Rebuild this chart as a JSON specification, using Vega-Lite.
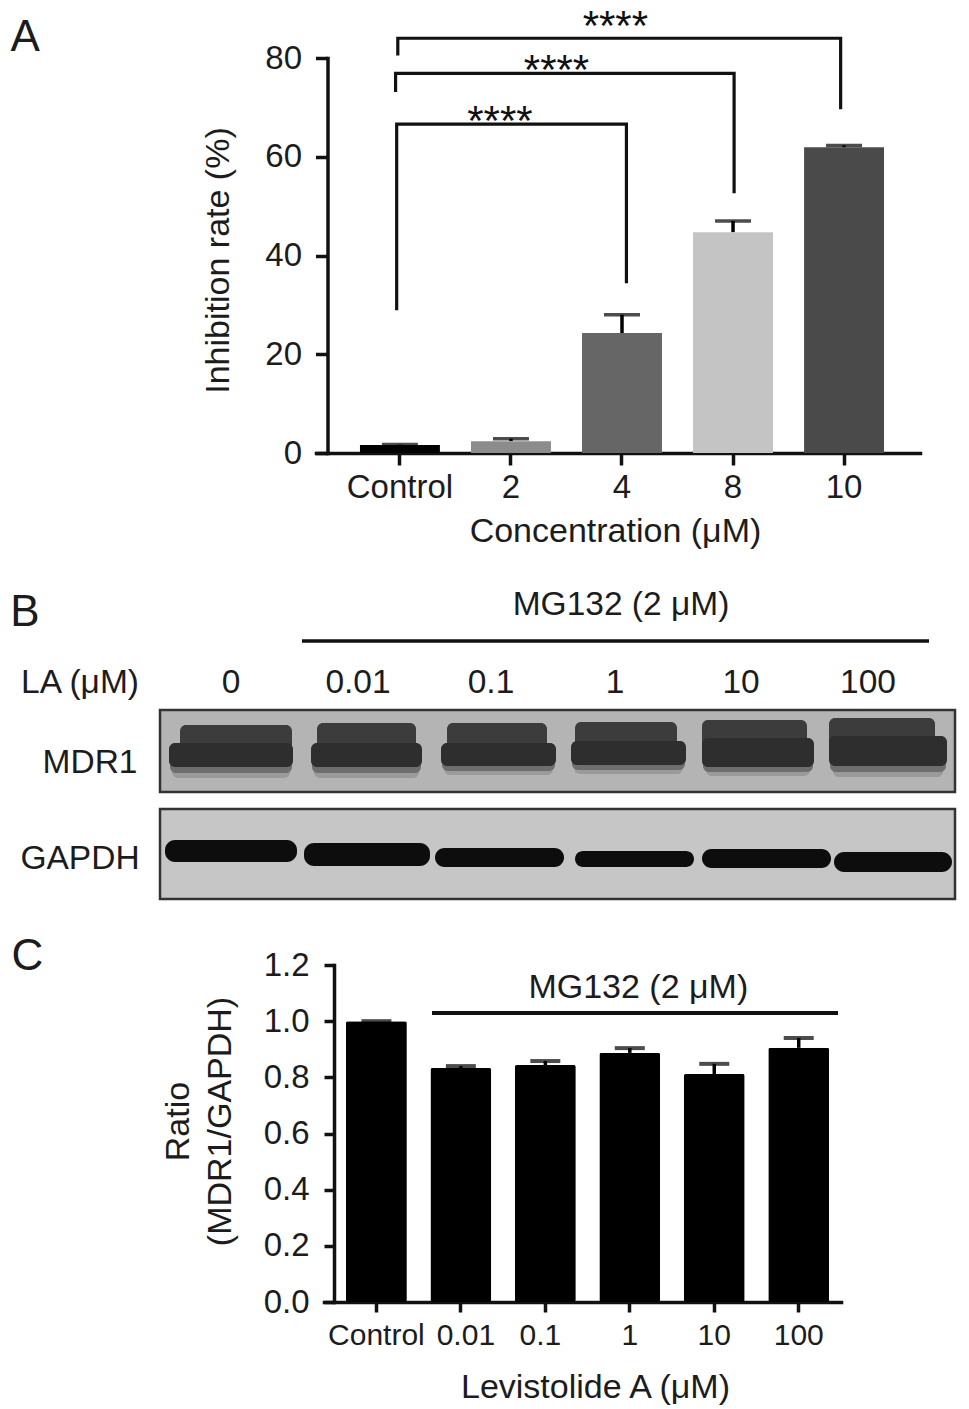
{
"$schema":"https://vega.github.io/schema/vega-lite/v6.json",
"padding":0,"autosize":{"type":"pad"},"background":"white","spacing":0,"bounds":"flush",
"config":{"view":{"stroke":null},"font":"Liberation Sans","text":{"font":"Liberation Sans","color":"#1c1c1c"},
"axis":{"grid":false,"domainColor":"#111","tickColor":"#111","labelColor":"#1c1c1c","titleColor":"#1c1c1c","labelFont":"Liberation Sans","titleFont":"Liberation Sans","titleFontWeight":"normal","domainWidth":3.5,"tickWidth":3.5,"domainCap":"square"}},
"vconcat":[
{"width":969,"height":570,
 "resolve":{"scale":{"x":"independent"},"axis":{"x":"independent"}},
 "layer":[
  {"data":{"values":[
   {"concentration":"Control","mean":1.6,"upper":1.7,"shade":"Control"},
   {"concentration":"2","mean":2.4,"upper":2.9,"shade":"2"},
   {"concentration":"4","mean":24.3,"upper":28.0,"shade":"4"},
   {"concentration":"8","mean":44.7,"upper":47.0,"shade":"8"},
   {"concentration":"10","mean":61.9,"upper":62.3,"shade":"10"}]},
   "layer":[
   {"mark":{"type":"rule","strokeWidth":3.5,"color":"#000"},
    "encoding":{"x":{"field":"concentration","type":"nominal","sort":null,"scale":{"type":"band","range":[316,920],"paddingInner":0.28,"paddingOuter":0.36,"align":0.55},
      "axis":{"title":"Concentration (μM)","labelAngle":0,"offset":-117,"tickSize":12,"labelFontSize":33,"titleFontSize":34,"labelPadding":6,"titlePadding":10,"titleX":615}},
     "y":{"field":"mean","type":"quantitative","scale":{"domain":[0,80],"range":[453,58],"nice":false},
      "axis":{"title":"Inhibition rate (%)","values":[0,20,40,60,80],"offset":-327.5,"tickSize":12,"labelFontSize":33,"titleFontSize":34,"labelPadding":14,"titlePadding":29,"titleY":260}},
     "y2":{"field":"upper"}}},
   {"mark":{"type":"tick","color":"#000","size":36,"thickness":3.5},
    "encoding":{"x":{"field":"concentration","type":"nominal","sort":null},"y":{"field":"upper","type":"quantitative"}}},
   {"mark":{"type":"bar"},
    "encoding":{"x":{"field":"concentration","type":"nominal","sort":null},
     "y":{"field":"mean","type":"quantitative"},
     "color":{"field":"shade","type":"nominal","legend":null,"scale":{"domain":["Control","2","4","8","10"],"range":["#000000","#8c8c8c","#666666","#c4c4c4","#4a4a4a"]}}}}
   ]},
  {"layer":[
   {"data":{"values":[
    {"bracket":"a","order":1,"position":-0.03,"level":28.9},{"bracket":"a","order":2,"position":-0.03,"level":66.6},{"bracket":"a","order":3,"position":2.04,"level":66.6},{"bracket":"a","order":4,"position":2.04,"level":34.4},
    {"bracket":"b","order":1,"position":-0.04,"level":73.1},{"bracket":"b","order":2,"position":-0.04,"level":76.9},{"bracket":"b","order":3,"position":3.01,"level":76.9},{"bracket":"b","order":4,"position":3.01,"level":52.6},
    {"bracket":"c","order":1,"position":-0.02,"level":80.5},{"bracket":"c","order":2,"position":-0.02,"level":84},{"bracket":"c","order":3,"position":3.97,"level":84},{"bracket":"c","order":4,"position":3.97,"level":69.6}]},
    "mark":{"type":"line","color":"#111","strokeWidth":3.2,"strokeJoin":"miter"},
    "encoding":{"x":{"field":"position","type":"quantitative","axis":null,"scale":{"domain":[-0.757,4.685],"range":[316,920],"nice":false,"zero":false}},
     "y":{"field":"level","type":"quantitative"},"detail":{"field":"bracket"},"order":{"field":"order","type":"quantitative"}}},
   {"data":{"values":[{"position":0.9,"level":68.6,"stars":"****"},{"position":1.41,"level":78.9,"stars":"****"},{"position":1.94,"level":88,"stars":"****"}]},
    "mark":{"type":"text","fontSize":42,"align":"center","baseline":"middle","dy":8,"color":"#111"},
    "encoding":{"x":{"field":"position","type":"quantitative"},"y":{"field":"level","type":"quantitative"},"text":{"field":"stars"}}},
   {"data":{"values":[{"position":-3.378,"level":84,"letter":"A"}]},
    "mark":{"type":"text","fontSize":44,"align":"center","baseline":"middle"},
    "encoding":{"x":{"field":"position","type":"quantitative"},"y":{"field":"level","type":"quantitative"},"text":{"field":"letter"}}}
  ]}
 ]},
{"width":969,"height":355,
 "resolve":{"scale":{"fill":"independent"}},
 "layer":[
  {"data":{"values":[
    {"membrane":"MDR1","x0":160,"x1":955,"y0":140,"y1":222},
    {"membrane":"GAPDH","x0":160,"x1":955,"y0":239,"y1":329}]},
   "mark":{"type":"rect","stroke":"#333","strokeWidth":2.5},
   "encoding":{"x":{"field":"x0","type":"quantitative","axis":null,"scale":{"domain":[0,969],"range":[0,969],"nice":false}},
    "x2":{"field":"x1"},
    "y":{"field":"y0","type":"quantitative","axis":null,"scale":{"domain":[0,355],"range":[0,355],"nice":false}},
    "y2":{"field":"y1"},
    "fill":{"field":"membrane","type":"nominal","legend":null,"scale":{"domain":["MDR1","GAPDH"],"range":["#b4b4b4","#c6c6c6"]}}}},
  {"data":{"values":[
    {"x0":172,"x1":290,"y0":173,"y1":208,"part":"fade2"},{"x0":314,"x1":419,"y0":173,"y1":208,"part":"fade2"},{"x0":444,"x1":553,"y0":173,"y1":205,"part":"fade2"},{"x0":574,"x1":683,"y0":171,"y1":204,"part":"fade2"},{"x0":706,"x1":810,"y0":168,"y1":206,"part":"fade2"},{"x0":833,"x1":943,"y0":166,"y1":207,"part":"fade2"},
    {"x0":170,"x1":292,"y0":173,"y1":203,"part":"fade1"},{"x0":312,"x1":421,"y0":173,"y1":203,"part":"fade1"},{"x0":442,"x1":555,"y0":173,"y1":201,"part":"fade1"},{"x0":572,"x1":685,"y0":171,"y1":200,"part":"fade1"},{"x0":703,"x1":813,"y0":168,"y1":202,"part":"fade1"},{"x0":830,"x1":946,"y0":166,"y1":202,"part":"fade1"},
    {"x0":180,"x1":292,"y0":155,"y1":180,"part":"upper"},{"x0":317,"x1":416,"y0":153,"y1":180,"part":"upper"},{"x0":447,"x1":547,"y0":153,"y1":180,"part":"upper"},{"x0":575,"x1":677,"y0":152,"y1":180,"part":"upper"},{"x0":702,"x1":807,"y0":150,"y1":180,"part":"upper"},{"x0":829,"x1":935,"y0":148,"y1":180,"part":"upper"},
    {"x0":169,"x1":293,"y0":173,"y1":197,"part":"lower"},{"x0":311,"x1":422,"y0":173,"y1":197,"part":"lower"},{"x0":441,"x1":556,"y0":173,"y1":196,"part":"lower"},{"x0":571,"x1":686,"y0":171,"y1":195,"part":"lower"},{"x0":702,"x1":814,"y0":168,"y1":197,"part":"lower"},{"x0":829,"x1":947,"y0":166,"y1":196,"part":"lower"}]},
   "mark":{"type":"rect","cornerRadius":6},
   "encoding":{"x":{"field":"x0","type":"quantitative"},"x2":{"field":"x1"},"y":{"field":"y0","type":"quantitative"},"y2":{"field":"y1"},
    "fill":{"field":"part","type":"nominal","legend":null,"scale":{"domain":["fade2","fade1","upper","lower"],"range":["#9a9a9a","#6e6e6e","#3c3c3c","#2e2e2e"]}}}},
  {"data":{"values":[
    {"x0":165,"x1":297,"y0":270,"y1":292},{"x0":304,"x1":430,"y0":273,"y1":296},{"x0":435,"x1":564,"y0":278,"y1":297},{"x0":575,"x1":694,"y0":281,"y1":297},{"x0":702,"x1":831,"y0":279,"y1":298},{"x0":834,"x1":952,"y0":282,"y1":302}]},
   "mark":{"type":"rect","cornerRadius":10,"fill":"#0d0d0d"},
   "encoding":{"x":{"field":"x0","type":"quantitative"},"x2":{"field":"x1"},"y":{"field":"y0","type":"quantitative"},"y2":{"field":"y1"}}},
  {"data":{"values":[{"x0":302,"x1":929,"y0":71}]},
   "mark":{"type":"rule","color":"#111","strokeWidth":3.5},
   "encoding":{"x":{"field":"x0","type":"quantitative"},"x2":{"field":"x1"},"y":{"field":"y0","type":"quantitative"}}},
  {"data":{"values":[
    {"x0":621,"y0":35,"label":"MG132 (2 μM)"},{"x0":80,"y0":113,"label":"LA (μM)"},
    {"x0":231,"y0":113,"label":"0"},{"x0":358,"y0":113,"label":"0.01"},{"x0":491,"y0":113,"label":"0.1"},{"x0":615,"y0":113,"label":"1"},{"x0":741,"y0":113,"label":"10"},{"x0":868,"y0":113,"label":"100"},
    {"x0":90,"y0":193,"label":"MDR1"},{"x0":80,"y0":289,"label":"GAPDH"}]},
   "mark":{"type":"text","fontSize":33.5,"align":"center","baseline":"middle"},
   "encoding":{"x":{"field":"x0","type":"quantitative"},"y":{"field":"y0","type":"quantitative"},"text":{"field":"label"}}},
  {"data":{"values":[{"x0":25,"y0":43,"label":"B"}]},
   "mark":{"type":"text","fontSize":44,"align":"center","baseline":"middle"},
   "encoding":{"x":{"field":"x0","type":"quantitative"},"y":{"field":"y0","type":"quantitative"},"text":{"field":"label"}}}
 ]},
{"width":969,"height":484,
 "layer":[
  {"data":{"values":[
   {"dose":"Control","ratio":1.0,"upper":1.0},
   {"dose":"0.01","ratio":0.833,"upper":0.84},
   {"dose":"0.1","ratio":0.844,"upper":0.858},
   {"dose":"1","ratio":0.887,"upper":0.904},
   {"dose":"10","ratio":0.812,"upper":0.848},
   {"dose":"100","ratio":0.905,"upper":0.94}]},
   "layer":[
   {"mark":{"type":"rule","strokeWidth":3.5,"color":"#000"},
    "encoding":{"x":{"field":"dose","type":"nominal","sort":null,"scale":{"type":"band","range":[324,841],"paddingInner":0.279,"paddingOuter":0.2,"align":0.65},
      "axis":{"title":"Levistolide A (μM)","labelAngle":0,"offset":-107,"tickSize":10,"labelFontSize":30,"titleFontSize":34,"labelPadding":8,"titlePadding":20,"titleX":595,"labelOffset":{"condition":[{"test":"datum.value==='0.01'","value":5},{"test":"datum.value==='0.1'","value":-5}],"value":0}}},
     "y":{"field":"ratio","type":"quantitative","scale":{"domain":[0,1.2],"range":[377,40],"nice":false},
      "axis":{"title":["Ratio","(MDR1/GAPDH)"],"values":[0,0.2,0.4,0.6,0.8,1,1.2],"format":".1f","offset":-334,"tickSize":10,"labelFontSize":33,"titleFontSize":34,"labelPadding":15,"titlePadding":26,"titleLineHeight":42,"titleY":196}},
     "y2":{"field":"upper"}}},
   {"mark":{"type":"tick","color":"#000","size":30,"thickness":4},
    "encoding":{"x":{"field":"dose","type":"nominal","sort":null},"y":{"field":"upper","type":"quantitative"}}},
   {"mark":{"type":"bar","color":"#000","cornerRadius":2},
    "encoding":{"x":{"field":"dose","type":"nominal","sort":null},"y":{"field":"ratio","type":"quantitative"}}}
   ]},
  {"data":{"values":[{"from":"0.01","to":"100","level":1.029}]},
   "mark":{"type":"rule","color":"#111","strokeWidth":4,"x":432,"x2":838},
   "encoding":{"y":{"field":"level","type":"quantitative"}}},
  {"data":{"values":[{"dose":"0.1","level":1.118,"label":"MG132 (2 μM)"}]},
   "mark":{"type":"text","fontSize":34,"align":"center","baseline":"middle","dx":93},
   "encoding":{"x":{"field":"dose","type":"nominal","sort":null},"y":{"field":"level","type":"quantitative"},"text":{"field":"label"}}},
  {"data":{"values":[{"dose":"Control","level":1.23,"label":"C"}]},
   "mark":{"type":"text","fontSize":44,"align":"center","baseline":"middle","dx":-349},
   "encoding":{"x":{"field":"dose","type":"nominal","sort":null},"y":{"field":"level","type":"quantitative"},"text":{"field":"label"}}}
 ]}
]}
